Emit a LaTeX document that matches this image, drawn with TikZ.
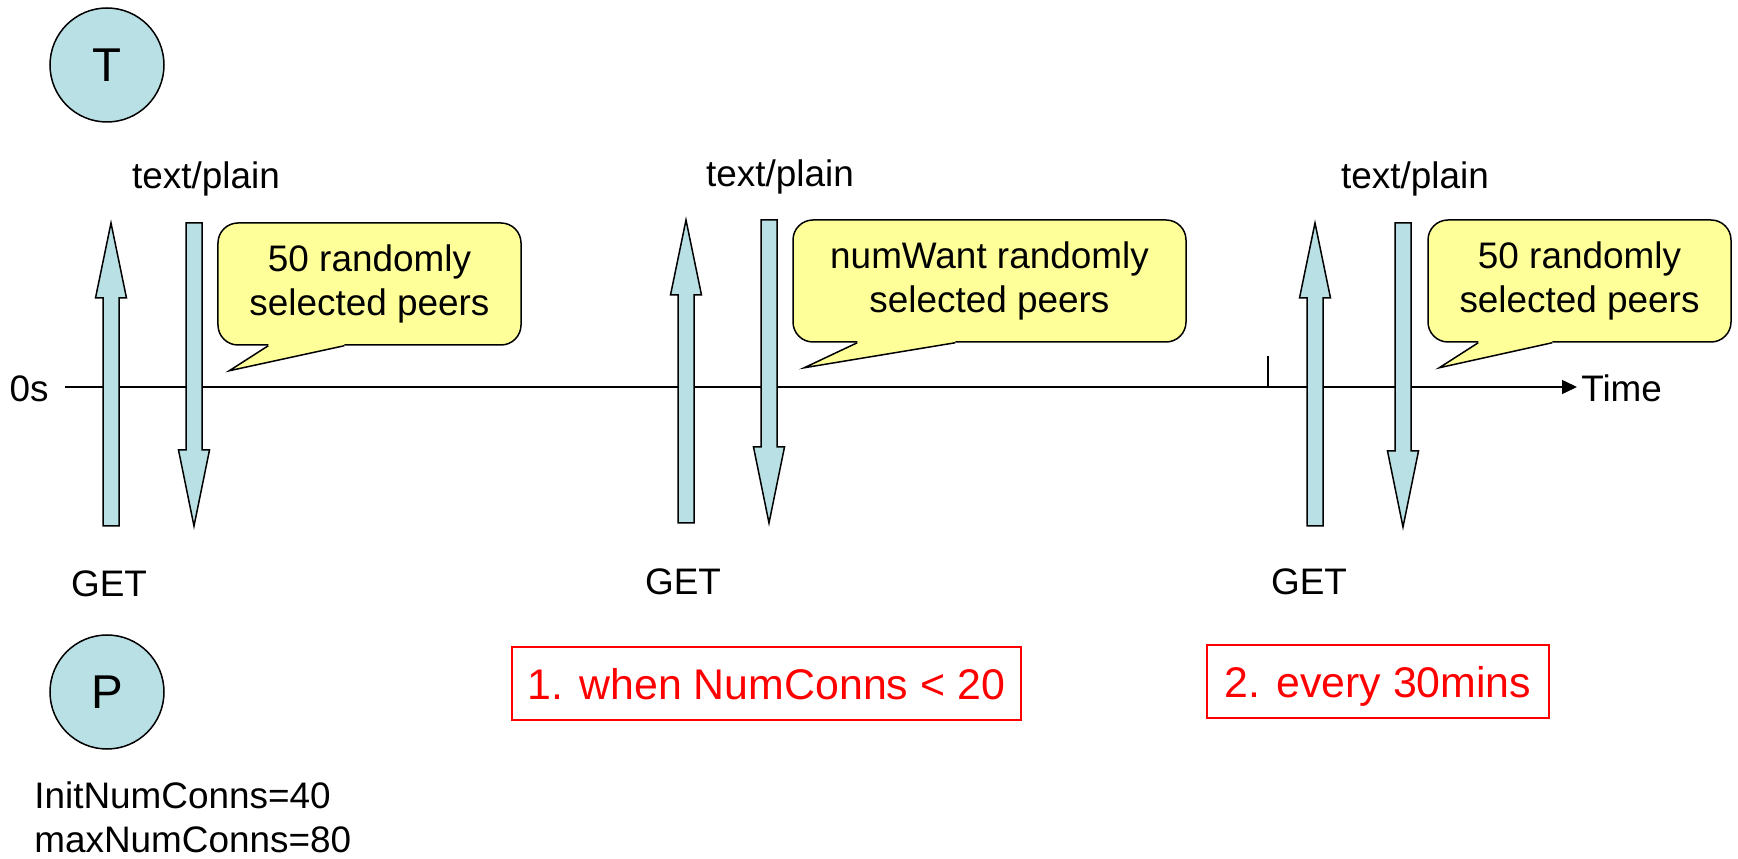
\documentclass[tikz,border=0pt]{standalone}
\usepackage{fontspec}
\setmainfont{Liberation Sans}
\usetikzlibrary{calc,arrows.meta}
\definecolor{pktblue}{RGB}{185,224,228}
\definecolor{noteyellow}{RGB}{255,255,153}
\tikzset{
  lbl/.style={font=\fontsize{21}{25}\selectfont, inner sep=0pt},
  peer/.style={circle, draw, fill=pktblue, line width=0.3mm, minimum size=22.8mm, inner sep=0pt, font=\fontsize{27}{30}\selectfont},
  note/.style={draw, fill=noteyellow, line width=0.3mm, rounded corners=4mm, align=center, inner sep=0pt, font=\fontsize{21}{25}\selectfont},
  cond/.style={draw=red, text=red, line width=0.4mm, inner sep=0pt, text depth=0pt, minimum height=14.6mm, font=\fontsize{24.4}{28}\selectfont},
  msg/.style={draw, fill=pktblue, line width=0.3mm, line join=miter},
}
\begin{document}
\begin{tikzpicture}[x=0.2mm, y=-0.2mm]
  \useasboundingbox (0,0) rectangle (1738,859);
  % Tracker and peer
  \node[peer] (tracker) at (107,65) {T};
  \node[peer] (peer) at (107,692) {P};
  \node[lbl, anchor=north west, align=left] (params) at (34,781) {InitNumConns=40\\maxNumConns=80};
  % Time axis
  \coordinate (t0) at (65,387);
  \coordinate (tend) at (1577,387);
  \draw[line width=0.3mm, -{Triangle[length=3mm,width=2.8mm]}] (t0) -- (tend);
  \node[lbl, anchor=base east] (zero) at (49,402) {0s};
  \node[lbl, anchor=base west] (time) at (1581,402) {Time};
  \draw[line width=0.3mm] (1268,356) -- (1268,387);
  % GET requests (up) and replies (down)
  \foreach \x/\t/\b in {111/223/526, 686/220/523, 1315/223/526} {
    \draw[msg] (\x-8,\b) -- (\x-8,\t+75) -- (\x-15.5,\t+75) -- (\x,\t) -- (\x+15.5,\t+75) -- (\x+8,\t+75) -- (\x+8,\b) -- cycle;
  }
  \foreach \x/\t/\b in {194/223/526, 769/220/523, 1403/223/527} {
    \draw[msg] (\x-8,\t) -- (\x+8,\t) -- (\x+8,\b-76) -- (\x+15.5,\b-76) -- (\x,\b) -- (\x-15.5,\b-76) -- (\x-8,\b-76) -- cycle;
  }
  \node[lbl, anchor=base] (get1) at (109,597) {GET};
  \node[lbl, anchor=base] (get2) at (683,595) {GET};
  \node[lbl, anchor=base] (get3) at (1309,595) {GET};
  \node[lbl, anchor=base] (plain1) at (206,189) {text/plain};
  \node[lbl, anchor=base] (plain2) at (780,187) {text/plain};
  \node[lbl, anchor=base] (plain3) at (1415,189) {text/plain};
  % Callouts
  \node[note, minimum width=60.6mm, minimum height=24.4mm] (note1) at (369.5,284) {50 randomly\\selected peers};
  \node[note, minimum width=78.6mm, minimum height=24.4mm] (note2) at (989.5,281) {numWant randomly\\selected peers};
  \node[note, minimum width=60.6mm, minimum height=24.4mm] (note3) at (1579.5,281) {50 randomly\\selected peers};
  \foreach \n/\a/\b in {note1/51/127, note2/65/163, note3/51/125} {
    \fill[noteyellow] ($(\n.south west)+(\a,-2)$) -- ($(\n.south west)+(\a,0)$) -- ($(\n.south west)+(12,25)$) -- ($(\n.south west)+(\b,0)$) -- ($(\n.south west)+(\b,-2)$) -- cycle;
    \draw[line width=0.3mm, line join=miter] ($(\n.south west)+(\a,0)$) -- ($(\n.south west)+(12,25)$) -- ($(\n.south west)+(\b,0)$);
  }
  % Conditions
  \node[cond, minimum width=101.8mm] (cond1) at (766.5,683.5) {1. when NumConns < 20};
  \node[cond, minimum width=68.4mm] (cond2) at (1378,681.5) {2. every 30mins};
\end{tikzpicture}
\end{document}
